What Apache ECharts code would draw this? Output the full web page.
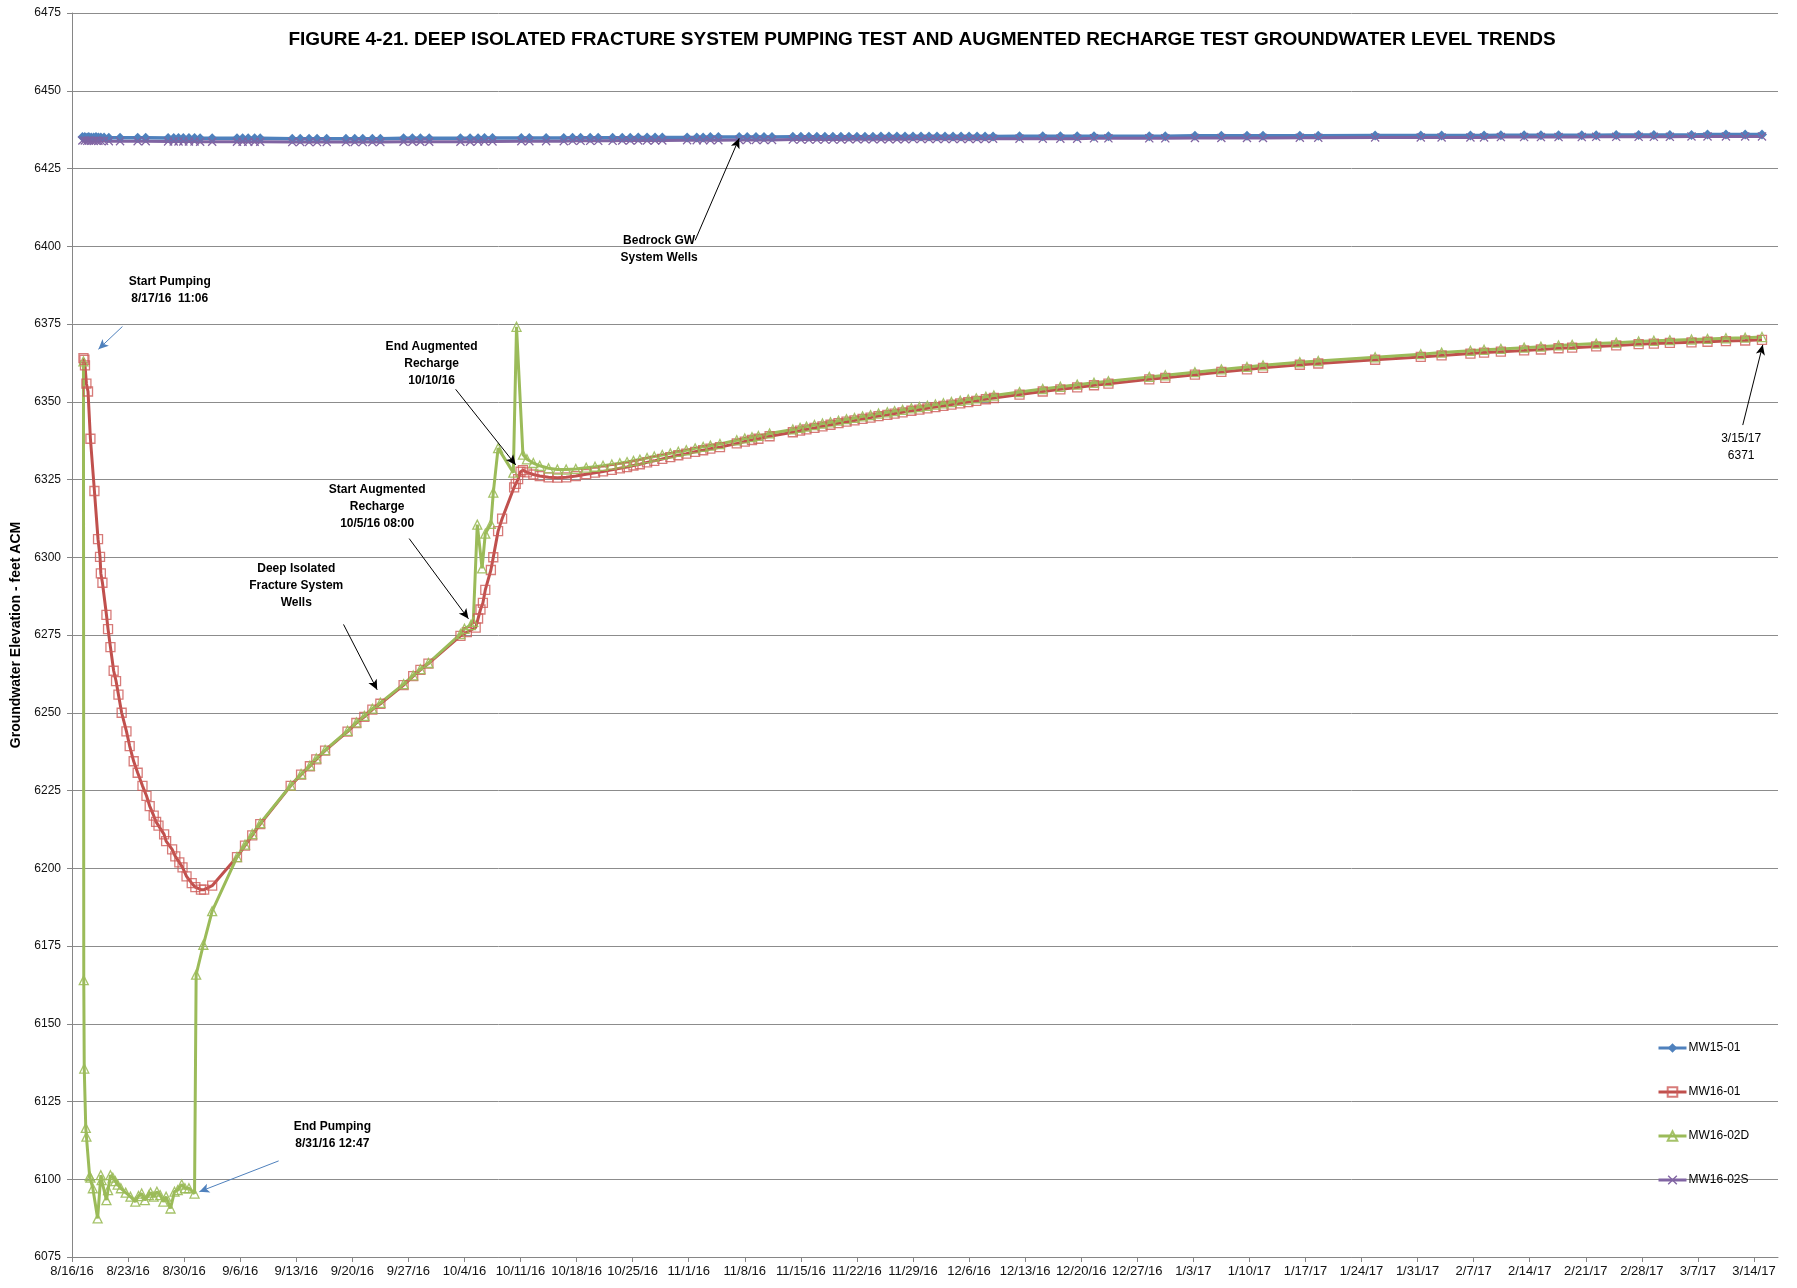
<!DOCTYPE html>
<html><head><meta charset="utf-8">
<script src="https://cdn.jsdelivr.net/npm/echarts@6/dist/echarts.min.js"></script>
<style>html,body{margin:0;padding:0;background:#fff}#c{width:1797px;height:1288px}</style>
</head><body><div id="c"></div>
<script>
// x values are days since 8/16/16 00:00
const xTickLabels = ['8/16/16','8/23/16','8/30/16','9/6/16','9/13/16','9/20/16','9/27/16','10/4/16','10/11/16','10/18/16','10/25/16','11/1/16','11/8/16','11/15/16','11/22/16','11/29/16','12/6/16','12/13/16','12/20/16','12/27/16','1/3/17','1/10/17','1/17/17','1/24/17','1/31/17','2/7/17','2/14/17','2/21/17','2/28/17','3/7/17','3/14/17'];
const yTicks = [6075,6100,6125,6150,6175,6200,6225,6250,6275,6300,6325,6350,6375,6400,6425,6450,6475];
const seriesNames = ['MW15-01','MW16-01','MW16-02D','MW16-02S'];

const shallowDays = [1.3,1.6,1.9,2.1,2.4,2.7,3.0,3.3,3.6,4.0,4.6,6.0,8.2,9.2,12.0,12.7,13.3,13.9,14.6,15.3,16.0,17.5,20.6,21.3,22.0,22.8,23.5,27.5,28.5,29.6,30.6,31.8,34.2,35.3,36.3,37.5,38.5,41.4,42.5,43.5,44.6,48.5,49.7,50.7,51.5,52.5,56.1,57.1,59.2,61.4,62.5,63.5,64.7,65.7,67.5,68.7,69.7,70.7,71.8,72.8,73.7,76.8,78.0,78.8,79.7,80.7,83.3,84.3,85.4,86.4,87.4,90,91,92,93,94,95,96,97,98,99,100,101,102,103,104,105,106,107,108,109,110,111,112,113,114,115,118.3,121.2,123.4,125.5,127.6,129.4,134.5,136.5,140.2,143.5,146.7,148.7,153.3,155.6,162.7,168.4,171.0,174.6,176.3,178.4,181.3,183.4,185.6,188.5,190.3,192.8,195.6,197.5,199.5,202.2,204.2,206.5,208.9,211.0];
const mw1501Values = [6435.1,6435.1,6435.0,6435.1,6435.0,6435.0,6435.1,6435.0,6435.0,6435.0,6434.9,6434.9,6434.9,6434.9,6434.8,6434.8,6434.8,6434.8,6434.8,6434.8,6434.7,6434.7,6434.7,6434.7,6434.7,6434.7,6434.7,6434.6,6434.6,6434.6,6434.6,6434.6,6434.6,6434.6,6434.6,6434.6,6434.6,6434.7,6434.7,6434.7,6434.7,6434.7,6434.7,6434.7,6434.8,6434.8,6434.8,6434.8,6434.8,6434.8,6434.9,6434.9,6434.9,6434.9,6434.9,6434.9,6434.9,6435.0,6435.0,6435.0,6435.0,6435.0,6435.0,6435.0,6435.1,6435.1,6435.1,6435.1,6435.1,6435.1,6435.1,6435.2,6435.2,6435.2,6435.2,6435.2,6435.2,6435.2,6435.2,6435.2,6435.2,6435.2,6435.3,6435.3,6435.3,6435.3,6435.3,6435.3,6435.3,6435.3,6435.3,6435.3,6435.3,6435.3,6435.3,6435.3,6435.3,6435.4,6435.4,6435.4,6435.4,6435.4,6435.4,6435.4,6435.4,6435.5,6435.5,6435.5,6435.5,6435.5,6435.5,6435.6,6435.6,6435.6,6435.6,6435.6,6435.7,6435.7,6435.7,6435.7,6435.7,6435.7,6435.8,6435.8,6435.8,6435.8,6435.8,6435.9,6435.9,6435.9,6435.9];
const mw1602sValues = [6434.0,6434.0,6433.9,6434.0,6433.9,6433.9,6434.0,6433.9,6433.9,6433.9,6433.8,6433.8,6433.8,6433.8,6433.7,6433.7,6433.7,6433.7,6433.7,6433.7,6433.6,6433.6,6433.6,6433.6,6433.6,6433.6,6433.6,6433.5,6433.5,6433.5,6433.5,6433.5,6433.5,6433.5,6433.5,6433.5,6433.5,6433.6,6433.6,6433.6,6433.6,6433.6,6433.6,6433.7,6433.7,6433.7,6433.8,6433.8,6433.8,6433.8,6433.9,6433.9,6433.9,6433.9,6433.9,6434.0,6434.0,6434.0,6434.0,6434.0,6434.0,6434.1,6434.1,6434.1,6434.1,6434.1,6434.2,6434.2,6434.2,6434.2,6434.2,6434.3,6434.3,6434.3,6434.3,6434.3,6434.3,6434.3,6434.4,6434.4,6434.4,6434.4,6434.4,6434.4,6434.4,6434.4,6434.5,6434.5,6434.5,6434.5,6434.5,6434.5,6434.5,6434.5,6434.5,6434.5,6434.6,6434.6,6434.6,6434.6,6434.6,6434.7,6434.7,6434.7,6434.7,6434.8,6434.8,6434.8,6434.8,6434.9,6434.9,6435.0,6435.0,6435.0,6435.0,6435.0,6435.1,6435.1,6435.1,6435.1,6435.1,6435.2,6435.2,6435.2,6435.2,6435.2,6435.3,6435.3,6435.3,6435.3,6435.3];

const mw1601Days = [1.43,1.55,1.62,1.8,2.0,2.3,2.8,3.25,3.5,3.6,3.8,4.3,4.5,4.8,5.2,5.5,5.8,6.2,6.8,7.2,7.7,8.2,8.8,9.3,9.7,10.2,10.5,10.8,11.5,11.75,12.5,12.9,13.4,13.8,14.3,14.95,15.4,16.1,16.5,17.5,20.6,21.6,22.5,23.5,27.3,28.6,29.7,30.5,31.6,34.4,35.5,36.5,37.5,38.5,41.4,42.6,43.5,44.5,48.5,49.3,50.4,50.7,51.0,51.3,51.6,52.3,52.6,53.2,53.7,55.2,55.4,55.7,56.0,56.3,56.8,57.6,58.4,59.5,60.6,61.7,62.9,64.2,65.3,66.3,67.4,68.4,69.3,70.1,70.9,71.8,72.7,73.7,74.7,75.7,76.7,77.8,78.8,79.7,80.9,83.0,84.0,84.9,85.7,87.1,90.0,90.9,91.7,92.7,93.7,94.7,95.7,96.7,97.7,98.7,99.7,100.7,101.8,102.7,103.7,104.8,105.8,106.8,107.8,108.8,109.8,110.9,111.9,112.9,114.1,115.1,118.3,121.2,123.4,125.5,127.6,129.4,134.5,136.5,140.2,143.5,146.7,148.7,153.3,155.6,162.7,168.4,171.0,174.6,176.3,178.4,181.3,183.4,185.6,187.3,190.3,192.8,195.6,197.5,199.5,202.2,204.2,206.5,208.9,211.0];
const mw1601Values = [6364.0,6363.5,6361.7,6355.8,6353.3,6338.1,6321.3,6305.8,6300.1,6294.8,6291.8,6281.5,6276.9,6271.1,6263.5,6260.2,6255.8,6250.0,6244.0,6239.3,6234.4,6230.7,6226.5,6223.3,6220.0,6216.9,6214.9,6213.7,6210.9,6208.7,6206.1,6203.8,6201.9,6200.3,6197.4,6195.2,6193.9,6193.1,6193.1,6194.4,6203.6,6207.3,6210.6,6214.2,6226.5,6230.1,6232.8,6235.0,6237.8,6243.9,6246.7,6248.7,6251.0,6252.9,6258.9,6261.8,6263.8,6265.8,6274.7,6275.9,6277.4,6280.3,6283.2,6285.3,6289.5,6295.9,6300.0,6308.4,6312.4,6322.5,6323.6,6325.1,6327.5,6328.0,6327.3,6326.6,6326.1,6325.7,6325.6,6325.7,6326.1,6326.7,6327.2,6327.6,6328.1,6328.6,6329.0,6329.5,6329.9,6330.5,6331.0,6331.6,6332.2,6332.8,6333.3,6333.9,6334.4,6334.9,6335.4,6336.6,6337.2,6337.7,6338.1,6338.9,6340.2,6340.7,6341.1,6341.6,6342.1,6342.6,6343.1,6343.6,6344.0,6344.5,6344.9,6345.4,6345.8,6346.2,6346.6,6347.1,6347.5,6347.9,6348.3,6348.7,6349.1,6349.5,6349.9,6350.3,6350.8,6351.2,6352.3,6353.3,6354.0,6354.6,6355.3,6355.8,6357.2,6357.7,6358.7,6359.6,6360.4,6360.9,6361.9,6362.3,6363.5,6364.4,6364.9,6365.5,6365.8,6366.1,6366.5,6366.8,6367.2,6367.4,6367.8,6368.1,6368.5,6368.7,6368.9,6369.1,6369.3,6369.5,6369.7,6369.9];

const mw1602dDays = [1.43,1.47,1.53,1.72,1.8,2.2,2.3,2.6,3.2,3.6,3.7,4.3,4.5,4.8,5.1,5.4,5.7,6.1,6.7,7.3,7.9,8.3,8.7,9.1,9.6,9.8,10.2,10.6,11.0,11.4,11.75,12.3,12.8,13.2,13.7,14.1,14.6,15.3,15.5,16.4,17.5,20.6,21.6,22.5,23.5,27.3,28.6,29.7,30.5,31.6,34.4,35.5,36.5,37.5,38.5,41.4,42.6,43.5,44.5,48.5,49.0,49.8,50.1,50.6,51.2,51.6,52.3,52.6,53.2,55.1,55.5,56.3,56.8,57.6,58.4,59.5,60.6,61.7,62.9,64.2,65.3,66.3,67.4,68.4,69.3,70.1,70.9,71.8,72.7,73.7,74.7,75.7,76.7,77.8,78.8,79.7,80.9,83.0,84.0,84.9,85.7,87.1,90.0,90.9,91.7,92.7,93.7,94.7,95.7,96.7,97.7,98.7,99.7,100.7,101.8,102.7,103.7,104.8,105.8,106.8,107.8,108.8,109.8,110.9,111.9,112.9,114.1,115.1,118.3,121.2,123.4,125.5,127.6,129.4,134.5,136.5,140.2,143.5,146.7,148.7,153.3,155.6,162.7,168.4,171.0,174.6,176.3,178.4,181.3,183.4,185.6,187.3,190.3,192.8,195.6,197.5,199.5,202.2,204.2,206.5,208.9,211.0];
const mw1602dValues = [6363.0,6164.0,6135.6,6116.5,6113.7,6101.0,6100.5,6097.1,6087.4,6101.3,6099.7,6093.3,6096.5,6101.3,6100.5,6099.4,6098.3,6097.1,6095.7,6094.4,6092.8,6094.6,6095.4,6093.3,6094.9,6095.7,6094.4,6096.0,6094.9,6092.8,6094.4,6090.6,6096.0,6096.5,6098.3,6097.1,6097.1,6095.4,6165.8,6175.4,6186.2,6203.6,6207.6,6211.0,6214.5,6226.6,6230.3,6233.0,6235.3,6238.0,6244.2,6246.9,6249.0,6251.3,6253.2,6259.2,6262.0,6264.0,6266.0,6275.3,6277.0,6278.2,6279.2,6310.5,6296.4,6307.6,6310.7,6320.8,6335.1,6327.2,6374.1,6333.0,6331.5,6330.3,6329.4,6328.6,6328.2,6328.2,6328.4,6328.8,6329.1,6329.4,6329.8,6330.2,6330.6,6331.0,6331.4,6331.9,6332.4,6332.9,6333.4,6333.9,6334.4,6335.0,6335.5,6335.9,6336.4,6337.6,6338.2,6338.6,6339.0,6339.8,6341.1,6341.6,6342.0,6342.5,6343.0,6343.4,6343.9,6344.4,6344.8,6345.3,6345.7,6346.2,6346.6,6347.0,6347.4,6347.9,6348.3,6348.7,6349.1,6349.5,6349.9,6350.3,6350.7,6351.1,6351.6,6352.0,6353.1,6354.1,6354.8,6355.5,6356.1,6356.6,6358.0,6358.5,6359.5,6360.4,6361.2,6361.7,6362.7,6363.1,6364.3,6365.3,6365.8,6366.4,6366.7,6367.0,6367.4,6367.7,6368.1,6368.3,6368.7,6369.0,6369.4,6369.6,6369.8,6370.0,6370.2,6370.4,6370.6,6370.8];

// annotations: text and anchor (in data units: day, elevation)
const noteTexts = ['Start Pumping\n8/17/16  11:06','End Pumping\n8/31/16 12:47','Deep Isolated\nFracture System\nWells','Start Augmented\nRecharge\n10/5/16 08:00','End Augmented\nRecharge\n10/10/16','Bedrock GW\nSystem Wells','3/15/17\n6371'];
const noteAnchors = [[12.2,6385.8],[32.5,6114.2],[28.0,6291.0],[38.1,6316.4],[44.9,6362.1],[73.3,6399.1],[208.4,6335.3]];
const noteBold = [true,true,true,true,true,true,false];
const arrowFrom = [[6.3,6374.2],[25.8,6105.9],[33.9,6278.4],[42.1,6306.0],[47.9,6354.0],[77.8,6401.9],[208.6,6342.5]];
const arrowTo = [[3.3,6366.9],[15.9,6096.0],[38.1,6257.4],[49.5,6280.2],[55.4,6329.7],[83.3,6434.7],[211.1,6368.3]];
const arrowBlue = [true,true,false,false,false,false,false];

const F = '"Liberation Sans", Arial, sans-serif';
const zip = (d, v) => d.map((x, i) => [x, v[i]]);
const C = {blue:'#4F81BD', red:'#C0504D', green:'#9BBB59', purple:'#8064A2'};
const xSymbol = 'path://M1,0 L5,4 L9,0 L10,1 L6,5 L10,9 L9,10 L5,6 L1,10 L0,9 L4,5 L0,1 Z';

const chart = echarts.init(document.getElementById('c'), null, {renderer:'canvas'});
chart.setOption({
  animation:false,
  backgroundColor:'#fff',
  graphic:[{type:'text', x:922, y:40, style:{text:'FIGURE 4-21. DEEP ISOLATED FRACTURE SYSTEM PUMPING TEST AND AUGMENTED RECHARGE TEST GROUNDWATER LEVEL TRENDS', font:'bold 19px "Liberation Sans", Arial, sans-serif', fill:'#000', textAlign:'center', textVerticalAlign:'middle'}}],
  grid:{left:72, top:13, right:19, bottom:31, containLabel:false},
  legend:{orient:'vertical', left:1652, top:1037, itemWidth:28, itemHeight:12, itemGap:32, selectedMode:false, data:seriesNames,
    lineStyle:{width:3},
    textStyle:{fontFamily:F, fontSize:12, color:'#000', lineHeight:12, padding:[0,0,0,-3]}},
  xAxis:{type:'value', min:0, max:213, interval:7,
    axisLine:{show:true, lineStyle:{color:'#868686', width:1}},
    axisTick:{show:true, length:5, lineStyle:{color:'#868686'}, customValues:xTickLabels.map((_, i) => i*7)},
    axisLabel:{fontFamily:F, fontSize:13, color:'#111', margin:8, customValues:xTickLabels.map((_, i) => i*7),
      formatter:v => xTickLabels[Math.round(v/7)] || ''},
    splitLine:{show:false}},
  yAxis:{type:'value', min:yTicks[0], max:yTicks[yTicks.length-1], interval:25,
    name:'Groundwater Elevation - feet ACM', nameLocation:'middle', nameGap:38, nameRotate:90,
    nameTextStyle:{fontFamily:F, fontSize:14, fontWeight:'bold', color:'#000'},
    axisLine:{show:true, lineStyle:{color:'#868686', width:1}},
    axisTick:{show:true, length:5, lineStyle:{color:'#868686'}},
    axisLabel:{fontFamily:F, fontSize:12, color:'#111', margin:11, formatter:v => String(v)},
    splitLine:{show:true, lineStyle:{color:'#8C8C8C', width:1}}},
  series:[
    {name:'MW15-01', type:'line', data:zip(shallowDays, mw1501Values), symbol:'diamond', symbolSize:10, showAllSymbol:true,
      lineStyle:{color:C.blue, width:3.5}, itemStyle:{color:C.blue}, emphasis:{disabled:true}},
    {name:'MW16-01', type:'line', data:zip(mw1601Days, mw1601Values), symbol:'rect', symbolSize:9, showAllSymbol:true,
      lineStyle:{color:C.red, width:3}, itemStyle:{color:'rgba(255,255,255,0)', borderColor:'rgba(205,90,88,0.8)', borderWidth:1.3}, emphasis:{disabled:true}},
    {name:'MW16-02D', type:'line', data:zip(mw1602dDays, mw1602dValues), symbol:'triangle', symbolSize:9, showAllSymbol:true,
      lineStyle:{color:C.green, width:3}, itemStyle:{color:'rgba(255,255,255,0)', borderColor:'rgba(155,187,89,0.9)', borderWidth:1.3}, emphasis:{disabled:true}},
    {name:'MW16-02S', type:'line', data:zip(shallowDays, mw1602sValues), symbol:xSymbol, symbolSize:9, showAllSymbol:true,
      lineStyle:{color:C.purple, width:3}, itemStyle:{color:C.purple}, emphasis:{disabled:true}},
    {name:'notes', type:'line', data:[], silent:true,
      markPoint:{symbol:'rect', symbolSize:1, itemStyle:{color:'rgba(0,0,0,0)'}, silent:true,
        data:noteTexts.map((t, i) => ({coord:noteAnchors[i], value:0,
          label:{show:true, position:'inside', formatter:t, fontFamily:F, fontSize:12, lineHeight:17, color:'#000', fontWeight:noteBold[i]?'bold':'normal', align:'center', verticalAlign:'middle'}}))},
      markLine:{silent:true, symbol:['none','arrow'], symbolSize:[7,10], label:{show:false}, animation:false,
        data:arrowFrom.map((a, i) => [{coord:a, lineStyle:{color:arrowBlue[i]?C.blue:'#000', width:1, type:'solid'}}, {coord:arrowTo[i]}])}}
  ]
});
</script></body></html>
